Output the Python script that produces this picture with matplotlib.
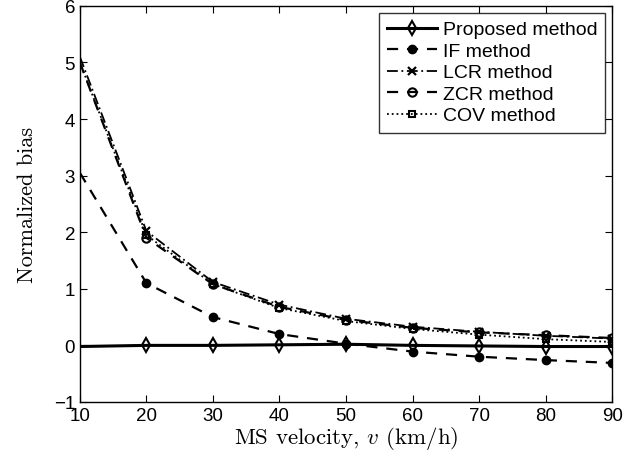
import matplotlib
matplotlib.use('Agg')
import matplotlib.pyplot as plt

plt.rcParams['font.family'] = ['Liberation Sans', 'DejaVu Sans']
plt.rcParams['mathtext.fontset'] = 'cm'

velocity = [10, 20, 30, 40, 50, 60, 70, 80, 90]

proposed = [-0.02, 0.0, 0.0, 0.01, 0.02, 0.0, -0.01, -0.02, -0.02]
if_bias = [3.05, 1.1, 0.5, 0.2, 0.03, -0.11, -0.2, -0.26, -0.31]
lcr_bias = [5.1, 2.02, 1.12, 0.72, 0.47, 0.33, 0.24, 0.17, 0.12]
zcr_bias = [5.0, 1.9, 1.08, 0.68, 0.45, 0.31, 0.23, 0.18, 0.13]
cov_bias = [5.0, 1.95, 1.08, 0.66, 0.43, 0.29, 0.19, 0.11, 0.06]

labels = ['Proposed method', 'IF method', 'LCR method', 'ZCR method', 'COV method']

fig = plt.figure(figsize=(6.39, 4.6), dpi=100)
ax = fig.add_axes([0.125, 0.124, 0.833, 0.861])

# no marker on the first sample (v = 10)
mk = slice(1, None)

ax.plot(velocity, cov_bias, linestyle=':', color='k', lw=1.3, markevery=mk,
        marker='s', ms=5, mfc='none', mec='k', mew=1.5, label=labels[4])
ax.plot(velocity, zcr_bias, linestyle=(0, (5, 4)), color='k', lw=1.6, markevery=mk,
        marker='o', ms=6, mfc='none', mec='k', mew=1.5, label=labels[3])
ax.plot(velocity, lcr_bias, linestyle=(0, (6, 2, 1, 2)), color='k', lw=1.3, markevery=mk,
        marker='x', ms=6, mec='k', mew=1.6, label=labels[2])
ax.plot(velocity, if_bias, linestyle=(0, (5, 4)), color='k', lw=1.6, markevery=mk,
        marker='o', ms=6, mfc='k', mec='k', label=labels[1])
ax.plot(velocity, proposed, linestyle='-', color='k', lw=2.2, markevery=mk,
        marker='d', ms=7.5, mfc='none', mec='k', mew=1.5, label=labels[0])

ax.set_xlim(10, 90)
ax.set_ylim(-1, 6)
ax.set_xticks(range(10, 91, 10))
ax.set_yticks(range(-1, 7))
ax.tick_params(direction='in', top=True, right=True, labelsize=13.5, length=5, width=0.8)
for s in ax.spines.values():
    s.set_linewidth(1.0)

ax.set_xlabel(r'MS velocity, $v$ (km/h)', family='cmr10', fontsize=16.5, labelpad=0)
ax.set_ylabel('Normalized bias', family='cmr10', fontsize=16, labelpad=12)

handles, lbls = ax.get_legend_handles_labels()
leg = ax.legend(handles[::-1], lbls[::-1], loc='upper right', fontsize=14,
                frameon=True, fancybox=False, edgecolor='k', handlelength=2.55,
                handletextpad=0.3, borderpad=0.42, labelspacing=0.2,
                borderaxespad=0.35)
leg.get_frame().set_linewidth(1.0)

fig.savefig('out.png', dpi=100)
